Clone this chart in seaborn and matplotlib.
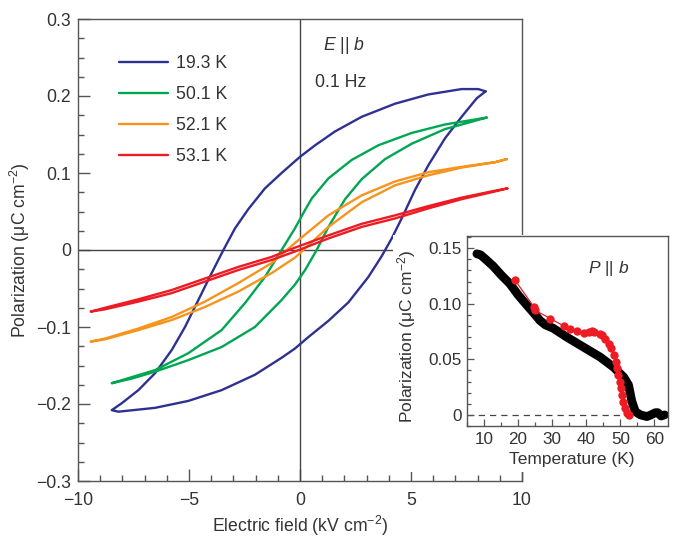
import numpy as np
import pandas as pd
import matplotlib
matplotlib.use("Agg")
import matplotlib.pyplot as plt
import seaborn as sns
from matplotlib.patches import Rectangle
from matplotlib.ticker import MultipleLocator, FuncFormatter

# ---------------- data ----------------
temps = ["19.3 K", "50.1 K", "52.1 K", "53.1 K"]
colors = ["#2e3192", "#00a651", "#f7941d", "#ed1c24"]

# 19.3 K loop: upper branch (field decreasing), lower branch (field increasing)
e_up_193 = [8.36, 8.03, 7.28, 5.78, 4.28, 2.78, 1.58, 0.68, 0.0, -0.83, -1.58, -2.33, -2.93, -3.45, -3.98,
            -4.58, -5.18, -5.78, -6.53, -7.28, -8.03, -8.48]
p_up_193 = [0.206, 0.209, 0.209, 0.202, 0.190, 0.173, 0.154, 0.136, 0.121, 0.100, 0.080, 0.053, 0.028, 0.0,
            -0.030, -0.065, -0.100, -0.130, -0.160, -0.182, -0.199, -0.208]
e_lo_193 = [-8.48, -8.18, -6.53, -5.03, -3.53, -2.03, -0.83, -0.23, 0.38, 1.28, 2.18, 3.08, 3.68, 4.13, 4.58,
            5.18, 5.78, 6.53, 7.28, 7.96, 8.36]
p_lo_193 = [-0.208, -0.210, -0.205, -0.196, -0.182, -0.162, -0.140, -0.128, -0.113, -0.092, -0.068, -0.035,
            -0.008, 0.015, 0.041, 0.078, 0.110, 0.145, 0.173, 0.197, 0.206]

# 50.1 K loop
e_up_501 = [8.41, 6.53, 5.03, 3.53, 2.33, 1.28, 0.53, 0.23, -0.23, -0.83, -1.58, -2.48, -3.53, -5.03, -6.53, -8.48]
p_up_501 = [0.172, 0.163, 0.152, 0.136, 0.117, 0.093, 0.067, 0.052, 0.028, 0.0, -0.035, -0.069, -0.104, -0.134,
            -0.156, -0.173]
e_lo_501 = [-8.48, -7.58, -6.53, -5.03, -3.53, -2.03, -0.83, -0.23, 0.23, 0.75, 1.28, 2.03, 2.78, 3.83, 5.03,
            6.53, 8.41]
p_lo_501 = [-0.173, -0.167, -0.158, -0.143, -0.126, -0.100, -0.065, -0.045, -0.026, 0.0, 0.030, 0.066, 0.092,
            0.118, 0.138, 0.157, 0.172]

# 52.1 K loop
e_up_521 = [9.31, 8.78, 7.28, 5.78, 4.28, 2.78, 1.28, 0.23, -0.23, -1.28, -2.78, -4.28, -5.78, -7.28, -8.78, -9.43]
p_up_521 = [0.118, 0.114, 0.108, 0.101, 0.089, 0.071, 0.045, 0.020, 0.009, -0.017, -0.043, -0.067, -0.087,
            -0.102, -0.115, -0.119]
e_lo_521 = [-9.43, -8.78, -7.28, -5.78, -4.28, -2.78, -1.28, -0.23, 0.23, 1.28, 2.78, 4.28, 5.78, 7.28, 8.78, 9.31]
p_lo_521 = [-0.119, -0.116, -0.104, -0.091, -0.074, -0.054, -0.030, -0.010, 0.002, 0.030, 0.062, 0.084, 0.097,
            0.107, 0.114, 0.118]

# 53.1 K loop
e_up_531 = [9.34, 8.78, 7.28, 5.78, 4.28, 2.78, 1.28, -0.23, -1.28, -2.78, -4.28, -5.78, -7.28, -8.78, -9.43]
p_up_531 = [0.080, 0.077, 0.068, 0.057, 0.045, 0.034, 0.019, 0.003, -0.009, -0.022, -0.037, -0.052, -0.064,
            -0.075, -0.080]
e_lo_531 = [-9.43, -8.78, -7.28, -5.78, -4.28, -2.78, -1.28, -0.23, 1.28, 2.78, 4.28, 5.78, 7.28, 8.78, 9.34]
p_lo_531 = [-0.080, -0.077, -0.067, -0.056, -0.041, -0.026, -0.013, -0.002, 0.015, 0.030, 0.041, 0.054, 0.066,
            0.076, 0.080]

# inset: polarization vs temperature
t_black = [7.9, 9.0, 10.5, 12.65, 15.0, 17.6, 20.0, 22.5, 24.5, 26.4, 28.0, 30.3, 34.3, 39.2, 44.1,
           48.0, 51.0, 52.4, 53.4, 54.4, 55.9, 57.8, 59.0, 60.3, 61.0, 62.0, 63.0]
p_black = [0.145, 0.144, 0.140, 0.134, 0.126, 0.118, 0.108, 0.099, 0.092, 0.085, 0.081, 0.078, 0.070, 0.061, 0.052,
           0.043, 0.034, 0.027, 0.012, 0.003, 0.0, -0.0015, 0.0, 0.002, 0.002, -0.001, 0.0]
t_red = [19.0, 24.7, 25.1, 29.5, 33.5, 35.2, 37.2, 39.4, 40.7, 41.7, 42.3, 43.9, 44.6, 45.6, 46.6, 47.4,
         48.1, 48.6, 48.9, 49.3, 49.8, 50.3, 50.6, 50.9, 51.3, 52.1, 52.6]
p_red = [0.1216, 0.097, 0.094, 0.0866, 0.0798, 0.0777, 0.0753, 0.074, 0.0747, 0.0756, 0.0747, 0.073, 0.0717,
         0.0687, 0.064, 0.060, 0.054, 0.048, 0.042, 0.036, 0.030, 0.024, 0.018, 0.012, 0.006, 0.0015, 0.0]

loops = [
    (temps[0], e_up_193 + e_lo_193, p_up_193 + p_lo_193),
    (temps[1], e_up_501 + e_lo_501, p_up_501 + p_lo_501),
    (temps[2], e_up_521 + e_lo_521, p_up_521 + p_lo_521),
    (temps[3], e_up_531 + e_lo_531, p_up_531 + p_lo_531),
]
rows = []
for t, es, ps in loops:
    for i, (e, p) in enumerate(zip(es, ps)):
        rows.append((t, i, e, p))
df = pd.DataFrame(rows, columns=["T", "idx", "E", "P"])

# ---------------- style ----------------
sns.set_theme(style="ticks")
FONT = "Liberation Sans"
TXT = "#333333"
SP = "#555555"
plt.rcParams.update({
    "font.family": [FONT, "DejaVu Sans"],
    "mathtext.fontset": "custom",
    "mathtext.rm": FONT,
    "mathtext.it": FONT + ":italic",
    "text.color": TXT,
    "axes.labelcolor": TXT,
    "xtick.color": SP,
    "ytick.color": SP,
    "xtick.labelcolor": TXT,
    "ytick.labelcolor": TXT,
    "axes.edgecolor": SP,
})

fig = plt.figure(figsize=(6.75, 5.38), dpi=100)
ax = fig.add_axes([78 / 675, 1 - 481 / 538, 444 / 675, 462 / 538])

ax.axhline(0, color="#444444", lw=1.0, zorder=1)
ax.axvline(0, color="#444444", lw=1.0, zorder=1)

sns.lineplot(data=df, x="E", y="P", hue="T", hue_order=temps, palette=colors,
             sort=False, estimator=None, lw=1.7, ax=ax,
             solid_joinstyle="round", solid_capstyle="round")

ax.set_xlim(-10, 10)
ax.set_ylim(-0.3, 0.3)
ax.xaxis.set_major_locator(MultipleLocator(5))
ax.xaxis.set_minor_locator(MultipleLocator(1))
ax.yaxis.set_major_locator(MultipleLocator(0.1))
ax.yaxis.set_minor_locator(MultipleLocator(0.025))


def fmt_main(v, pos):
    if abs(v) < 1e-9:
        return "0"
    s = f"{v:g}"
    return s.replace("-", "\u2212")


ax.xaxis.set_major_formatter(FuncFormatter(fmt_main))
ax.yaxis.set_major_formatter(FuncFormatter(fmt_main))
ax.tick_params(which="both", direction="in", top=False, right=False, labelsize=12.7, width=1.0)
ax.tick_params(which="major", length=8.5, pad=5)
ax.tick_params(which="minor", length=4.5)
ax.tick_params(axis="x", which="major", pad=8)
for s in ax.spines.values():
    s.set_visible(True)
    s.set_linewidth(1.0)
    s.set_color(SP)

ax.set_xlabel("Electric field (kV cm$^{-2}$)", fontsize=12.7)
ax.set_ylabel("Polarization (\u03bcC cm$^{-2}$)", fontsize=12.7)
ax.xaxis.set_label_coords(0.5, -0.072)
ax.yaxis.set_label_coords(-0.104, 0.5)

sns.move_legend(ax, "upper left", bbox_to_anchor=(0.092, 0.922), title=None, frameon=False,
                handlelength=2.8, handletextpad=0.45, labelspacing=0.8, fontsize=12.7,
                borderpad=0, borderaxespad=0)

ax.text(1.04, 0.265, r"$E\ ||\ b$", fontsize=12.7, ha="left", va="center", color=TXT)
ax.text(0.68, 0.218, "0.1 Hz", fontsize=12.7, ha="left", va="center", color=TXT)

# white background under inset
fig.add_artist(Rectangle((393 / 675, 1 - 472 / 538), (675 - 393) / 675, (472 - 235) / 538,
                         transform=fig.transFigure, facecolor="white", edgecolor="none", zorder=1))

axin = fig.add_axes([467 / 675, 1 - 426 / 538, 201 / 675, 190 / 538])
axin.set_zorder(2)
axin.axhline(0, color="#444444", lw=0.9, ls=(0, (5, 4)), zorder=0.5)
sns.lineplot(x=t_black, y=p_black, color="black", lw=6.3, sort=False, estimator=None,
             solid_capstyle="round", solid_joinstyle="round", ax=axin)
sns.lineplot(x=t_red, y=p_red, color="#ed1c24", lw=0.9, sort=False, estimator=None,
             marker="o", markersize=6, markeredgewidth=0, ax=axin)
axin.set_xlim(5, 64)
axin.set_ylim(-0.010, 0.161)
axin.xaxis.set_major_locator(MultipleLocator(10))
axin.xaxis.set_minor_locator(MultipleLocator(5))
axin.yaxis.set_major_locator(MultipleLocator(0.05))
axin.yaxis.set_minor_locator(MultipleLocator(0.01))
axin.yaxis.set_major_formatter(FuncFormatter(lambda v, p: "0" if abs(v) < 1e-9 else f"{v:.2f}"))
axin.tick_params(which="both", direction="in", top=False, right=False, labelsize=12.3, width=0.9)
axin.tick_params(which="major", length=5, pad=4)
axin.tick_params(which="minor", length=3)
for s in axin.spines.values():
    s.set_visible(True)
    s.set_linewidth(1.0)
    s.set_color(SP)
axin.set_xlabel("Temperature (K)", fontsize=12.5)
axin.set_ylabel("Polarization (\u03bcC cm$^{-2}$)", fontsize=12.5)
axin.xaxis.set_label_coords(0.52, -0.135)
axin.yaxis.set_label_coords(-0.245, 0.474)
axin.text(40.6, 0.132, r"$P\ ||\ b$", fontsize=12.5, ha="left", va="center", color=TXT)

fig.savefig("out.png", dpi=100)
